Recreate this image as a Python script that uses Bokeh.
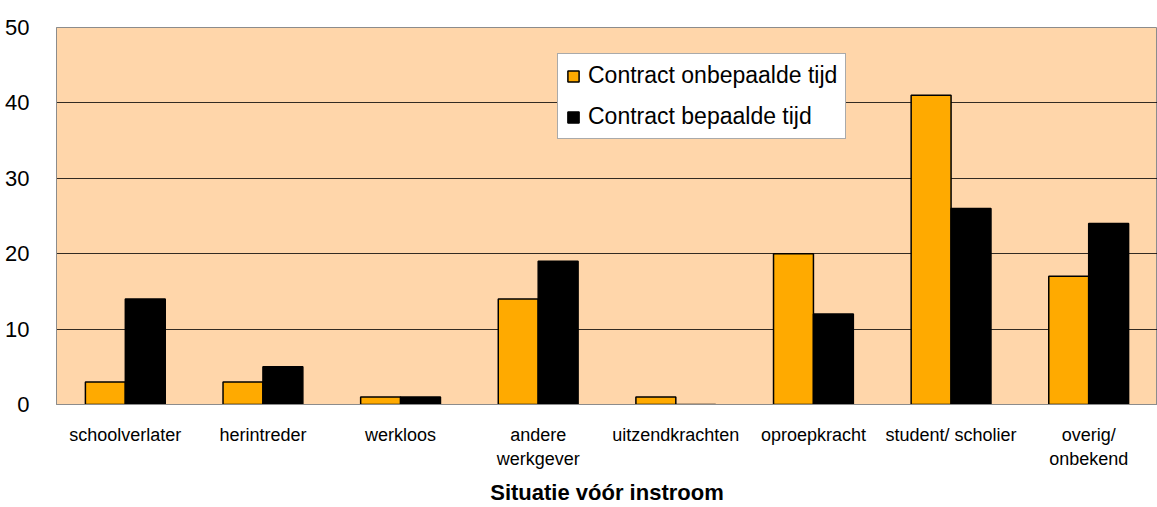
from bokeh.plotting import figure
from bokeh.models import ColumnDataSource, Legend, LegendItem, FactorRange
from bokeh.transform import dodge
from bokeh.embed import file_html
from bokeh.resources import INLINE

categories = ["schoolverlater", "herintreder", "werkloos", "andere\nwerkgever",
              "uitzendkrachten", "oproepkracht", "student/ scholier", "overig/\nonbekend"]
onbepaald = [3, 3, 1, 14, 1, 20, 41, 17]
bepaald = [14, 5, 1, 19, 0, 12, 26, 24]
series_names = ["Contract onbepaalde tijd", "Contract bepaalde tijd"]
y_ticks = [0, 10, 20, 30, 40, 50]

src = ColumnDataSource(dict(cat=categories, a=onbepaald, b=bepaald))

p = figure(x_range=FactorRange(*categories, range_padding=0), y_range=(0, 50),
           width=1157, height=507, output_backend="svg", toolbar_location=None,
           min_border_left=56, min_border_right=0, min_border_top=27, min_border_bottom=102)
p.background_fill_color = "#FFD6AA"
p.border_fill_color = "white"
p.outline_line_color = "#8c8c8c"

r1 = p.vbar(x=dodge("cat", -0.145, range=p.x_range), top="a", width=0.29, source=src,
            fill_color="#FFAA00", line_color="black", line_width=1.5)
r2 = p.vbar(x=dodge("cat", 0.145, range=p.x_range), top="b", width=0.29, source=src,
            fill_color="black", line_color="black", line_width=1.5)

p.xgrid.grid_line_color = None
p.ygrid.grid_line_color = "black"
p.ygrid.grid_line_alpha = 0.8
p.yaxis.ticker = y_ticks

for ax in (p.xaxis[0], p.yaxis[0]):
    ax.axis_line_color = "#8c8c8c"
    ax.major_tick_line_color = None
    ax.minor_tick_line_color = None
    ax.major_label_text_font = "Liberation Sans"
    ax.major_label_text_color = "black"

p.yaxis.major_label_text_font_size = "22px"
p.yaxis.major_label_standoff = 21
p.xaxis.major_label_text_font_size = "18px"
p.xaxis.major_label_standoff = 14
p.xaxis.major_label_text_line_height = 1.2
p.xaxis.axis_label = "Situatie vóór instroom"
p.xaxis.axis_label_text_font = "Liberation Sans"
p.xaxis.axis_label_text_font_style = "bold"
p.xaxis.axis_label_text_font_size = "22px"
p.xaxis.axis_label_standoff = 8
p.xaxis.axis_label_text_color = "black"

legend = Legend(items=[LegendItem(label=series_names[0], renderers=[r1]),
                       LegendItem(label=series_names[1], renderers=[r2])],
                location=(501, 265))
legend.label_text_font = "Liberation Sans"
legend.label_text_font_size = "23px"
legend.label_text_color = "black"
legend.glyph_width = 14
legend.glyph_height = 14
legend.label_height = 25
legend.spacing = 14
legend.padding = 8
legend.margin = 0
legend.label_standoff = 8
legend.border_line_color = "#555555"
legend.background_fill_color = "white"
legend.background_fill_alpha = 1
p.add_layout(legend, "center")

open("out.html", "w").write(file_html(p, INLINE))
